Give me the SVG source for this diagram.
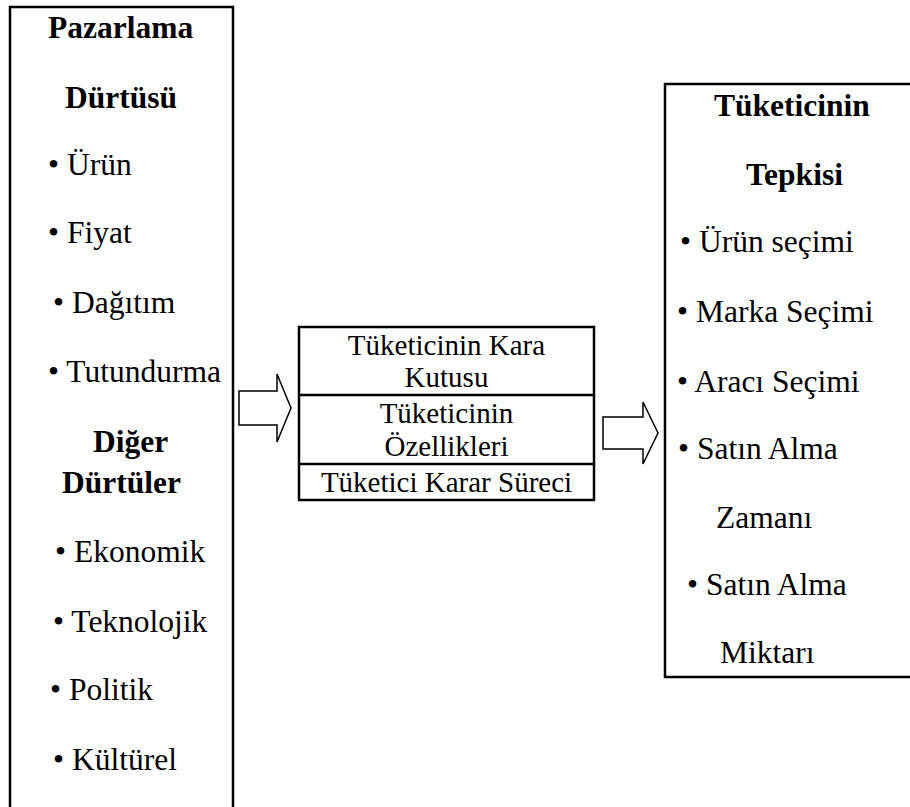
<svg xmlns="http://www.w3.org/2000/svg" width="910" height="807" viewBox="0 0 910 807">
<style>
.box{fill:#fff;stroke:#000;stroke-width:2.5}
.arr{fill:#fff;stroke:#000;stroke-width:1.5;stroke-linejoin:miter}
.t{font-family:"Liberation Serif","Times New Roman",serif;font-size:31.5px;fill:#000}
.b{font-weight:bold}
.c{font-family:"Liberation Serif","Times New Roman",serif;font-size:29px;fill:#000;text-anchor:middle}
</style>
<rect width="910" height="807" fill="#fff"/>
<g id="left-node">
<rect class="box" x="10" y="7" width="223" height="810"/>
<text class="t b" x="48" y="38">Pazarlama</text>
<text class="t b" x="65" y="108">Dürtüsü</text>
<text class="t" x="48" y="175">• Ürün</text>
<text class="t" x="48" y="243">• Fiyat</text>
<text class="t" x="53" y="313">• Dağıtım</text>
<text class="t" x="48" y="382">• Tutundurma</text>
<text class="t b" x="93" y="452">Diğer</text>
<text class="t b" x="62" y="493">Dürtüler</text>
<text class="t" x="55" y="562">• Ekonomik</text>
<text class="t" x="53" y="632">• Teknolojik</text>
<text class="t" x="50" y="700">• Politik</text>
<text class="t" x="53" y="770">• Kültürel</text>
</g>
<g id="center-node">
<rect class="box" x="299" y="327" width="295" height="173"/>
<line x1="299" y1="395" x2="594" y2="395" stroke="#000" stroke-width="2.5"/>
<line x1="299" y1="464" x2="594" y2="464" stroke="#000" stroke-width="2.5"/>
<text class="c" x="446.5" y="355">Tüketicinin Kara</text>
<text class="c" x="446.5" y="387">Kutusu</text>
<text class="c" x="446.5" y="423">Tüketicinin</text>
<text class="c" x="446.5" y="456">Özellikleri</text>
<text class="c" x="446.5" y="492">Tüketici Karar Süreci</text>
</g>
<g id="right-node">
<rect class="box" x="665" y="84" width="260" height="593"/>
<text class="t b" x="714" y="116">Tüketicinin</text>
<text class="t b" x="746" y="185">Tepkisi</text>
<text class="t" x="680" y="252">• Ürün seçimi</text>
<text class="t" x="677" y="322">• Marka Seçimi</text>
<text class="t" x="677" y="392">• Aracı Seçimi</text>
<text class="t" x="678" y="459">• Satın Alma</text>
<text class="t" x="716" y="528">Zamanı</text>
<text class="t" x="687" y="595">• Satın Alma</text>
<text class="t" x="720" y="663">Miktarı</text>
</g>
<g id="connectors">
<polygon class="arr" points="239,391 277,391 277,374 291,408 277,442 277,425 239,425"/>
<polygon class="arr" points="603,417 643,417 643,402 658,433 643,464 643,449 603,449"/>
</g>
</svg>
